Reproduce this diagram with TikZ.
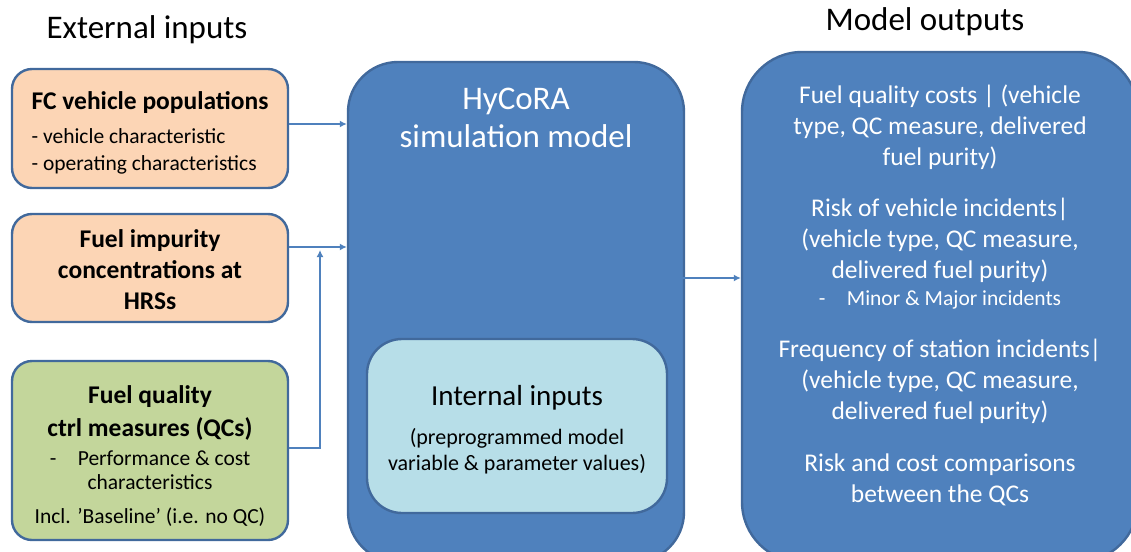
\documentclass[tikz,border=0pt]{standalone}
\usepackage{fontspec}
\setmainfont{Carlito}
\usetikzlibrary{positioning,arrows.meta}

\definecolor{simblue}{HTML}{4F81BD}
\definecolor{edgeblue}{HTML}{41699C}
\definecolor{peach}{HTML}{FCD5B5}
\definecolor{qcgreen}{HTML}{C3D69B}
\definecolor{paleblue}{HTML}{B7DEE8}

\newcommand{\bigtext}{\fontsize{25.5}{31}\selectfont}
\newcommand{\smalltext}{\fontsize{21.5}{24}\selectfont}
\newcommand{\topgap}[1]{\rule{0pt}{#1}}

\tikzset{
  inbox/.style={draw=edgeblue, line width=2.4pt, rounded corners=20pt,
    minimum width=276pt, align=center, inner sep=0pt},
  bigbox/.style={draw=edgeblue, fill=simblue, line width=2.4pt, inner sep=0pt},
  flow/.style={draw=simblue, line width=2.2pt, -{Latex[length=7pt,width=7pt]}},
  heading/.style={font=\fontsize{33}{38}\selectfont},
  whitetext/.style={text=white, align=center, inner sep=0pt}
}

\begin{document}
\begin{tikzpicture}[x=1pt, y=-1pt]

  \useasboundingbox (0,0) rectangle (1131,551);
  \clip (0,0) rectangle (1131,551);

  % headings
  \node[heading] (extin) at (147,30) {External inputs};
  \node[heading] (modout) at (925,22) {Model outputs};

  % external inputs
  \node[inbox, fill=peach, minimum height=119pt, align=left,
    font=\fontsize{21.5}{27}\selectfont] (fc) at (150,128.5)
    {\topgap{26pt}\bigtext\bfseries FC vehicle populations\\[7pt]
     - vehicle characteristic\\
     - operating characteristics};
  \node[inbox, fill=peach, minimum height=108pt, font=\bigtext\bfseries] (imp) at (150,268)
    {\topgap{22pt}Fuel impurity\\concentrations at\\HRSs};
  \node[inbox, fill=qcgreen, minimum height=179pt, font=\smalltext] (qc) at (150,450.5)
    {\topgap{29pt}\bigtext\bfseries Fuel quality\\[9pt]
     \bigtext\bfseries ctrl measures (QCs)\\[5pt]
     -\quad Performance \& cost\\
     characteristics\\[10pt]
     Incl. ’Baseline’ (i.e. no QC)};

  % simulation model
  \node[bigbox, rounded corners=50pt, minimum width=336pt, minimum height=500pt] (sim) at (516,312) {};
  \node[whitetext, font=\fontsize{33}{38}\selectfont] (simtitle) at (516,118) {HyCoRA\\simulation model};
  \node[inbox, fill=paleblue, rounded corners=35pt, minimum width=300pt, minimum height=174pt,
    font=\fontsize{22}{26}\selectfont] (intin) at (517,426)
    {\topgap{28pt}\fontsize{29}{34}\selectfont Internal inputs\\[13pt]
     (preprogrammed model\\
     variable \& parameter values)};

  % model outputs
  \node[bigbox, rounded corners=60pt, minimum width=396pt, minimum height=510pt] (out) at (940,307) {};
  \node[whitetext, font=\bigtext] (cost) at (940,127)
    {Fuel quality costs | (vehicle\\type, QC measure, delivered\\fuel purity)};
  \node[whitetext, font=\bigtext] (risk) at (940,254)
    {Risk of vehicle incidents|\\(vehicle type, QC measure,\\delivered fuel purity)\\[-4pt]
     \smalltext -\quad Minor \& Major incidents};
  \node[whitetext, font=\bigtext] (freq) at (940,381)
    {Frequency of station incidents|\\(vehicle type, QC measure,\\delivered fuel purity)};
  \node[whitetext, font=\bigtext] (comp) at (940,479.5)
    {Risk and cost comparisons\\between the QCs};

  % connectors
  \coordinate (merge) at (320,250);
  \coordinate (simout) at (662,278);
  \draw[flow] (fc.east |- 0,124) -- (sim.west |- 0,124);
  \draw[flow] (imp.east |- 0,247) -- (sim.west |- 0,247);
  \draw[flow] (qc.east |- 0,448) -| (merge);
  \draw[flow] (simout) -- (out.west |- simout);

\end{tikzpicture}
\end{document}
